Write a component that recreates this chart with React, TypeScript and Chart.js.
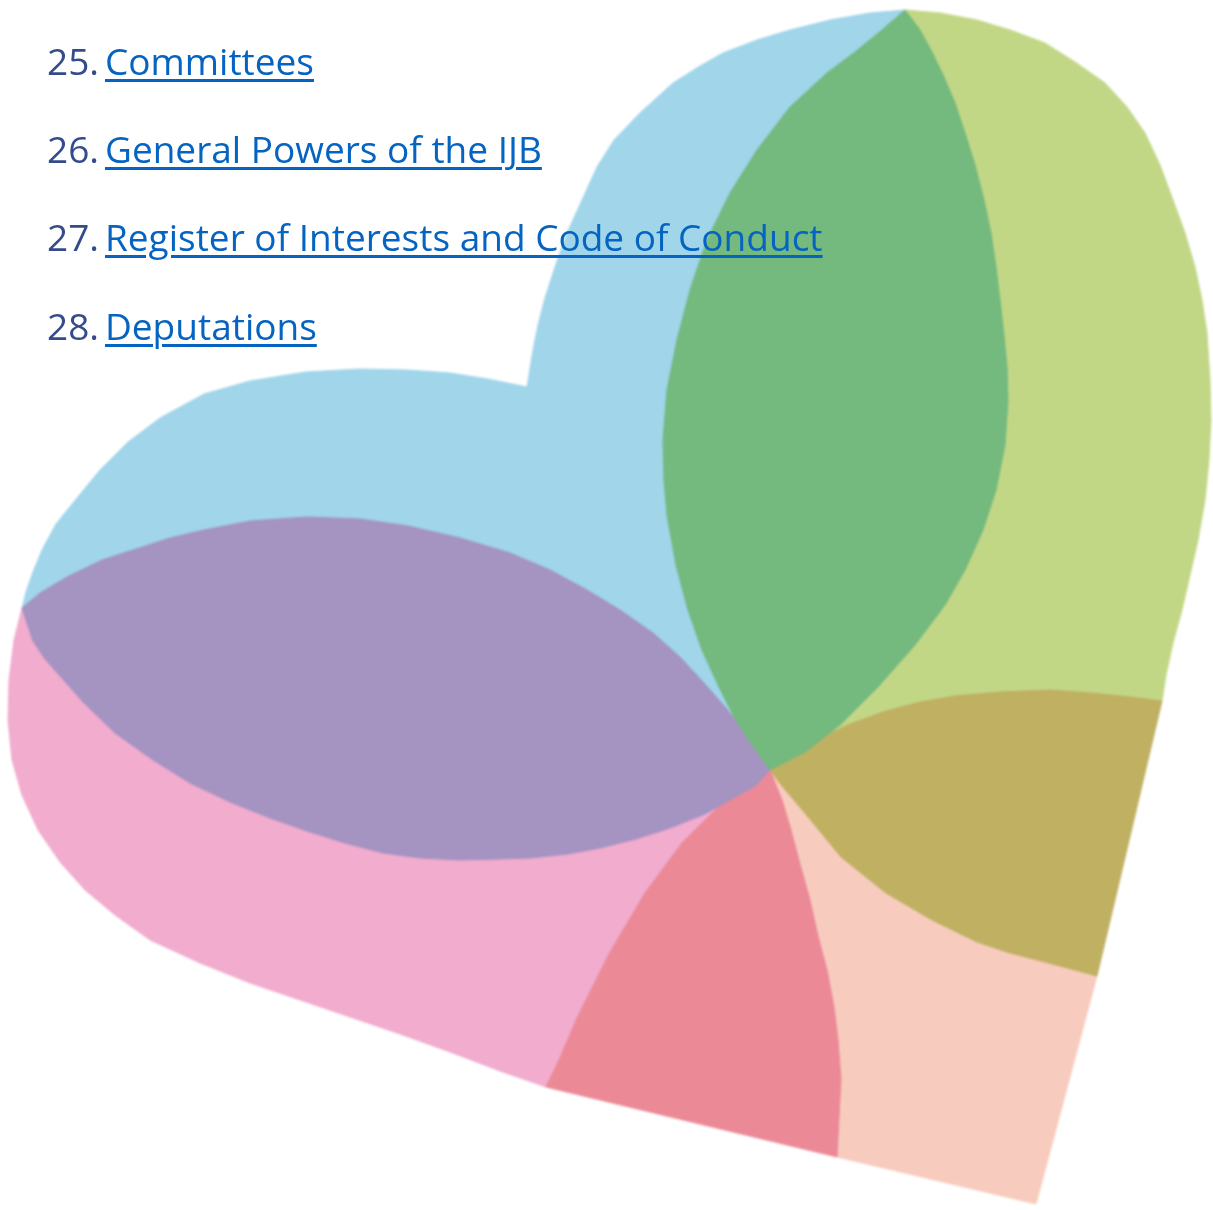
import React, { useEffect, useRef } from "react";
import { Chart, registerables } from "chart.js";

Chart.register(...registerables);

// ---- Text content ----
const itemNumbers = ["25.", "26.", "27.", "28."];
const itemTitles = [
  "Committees",
  "General Powers of the IJB",
  "Register of Interests and Code of Conduct",
  "Deputations",
];
const itemBaselines = [75, 163, 251, 340];

// ---- Shape outlines (x/y in image units) ----
const blueLobe: number[][] = [
  [22, 608], [26, 592], [33, 572], [42, 550], [56, 524], [77, 498], [100, 470], [128, 442],
  [160, 418], [204, 394], [250, 381], [306, 372], [360, 369], [408, 370], [450, 373], [488, 379],
  [527, 387], [533, 350], [538, 325], [545, 298], [555, 267], [567, 233], [582, 200], [597, 167],
  [614, 140], [640, 113], [673, 83], [700, 66], [723, 53], [757, 40], [790, 30], [830, 20],
  [870, 13], [905, 10], [770, 770], [22, 608],
];
const lightGreenLobe: number[][] = [
  [905, 10], [940, 13], [977, 20], [1010, 30], [1045, 43], [1075, 62], [1105, 83], [1127, 107],
  [1145, 133], [1160, 165], [1173, 200], [1185, 233], [1195, 267], [1202, 300], [1207, 333],
  [1210, 380], [1211, 420], [1209, 460], [1205, 500], [1198, 540], [1190, 575], [1182, 610],
  [1173, 643], [1166, 675], [1162, 701], [770, 770], [905, 10],
];
const pinkBand: number[][] = [
  [22, 608], [14, 640], [9, 680], [8, 720], [12, 760], [22, 795], [38, 830], [60, 862], [85, 890],
  [115, 915], [150, 940], [200, 963], [250, 983], [300, 1000], [350, 1017], [400, 1034],
  [450, 1052], [500, 1071], [546, 1087], [770, 770], [22, 608],
];
const peachWedge: number[][] = [
  [770, 770], [1097, 976], [1036, 1204], [837, 1157], [770, 770],
];
const olivePetal: number[][] = [
  [770, 770], [795, 752], [820, 738], [850, 724], [886, 711], [920, 702], [955, 696], [1000, 692],
  [1050, 690], [1091, 693], [1130, 697], [1162, 701], [1097, 976], [1045, 962], [1010, 953],
  [977, 942], [932, 920], [886, 893], [841, 857], [809, 818], [782, 786], [770, 770],
];
const redPetal: number[][] = [
  [770, 770], [745, 790], [718, 807], [682, 843], [645, 893], [609, 954], [577, 1018], [560, 1058],
  [546, 1087], [837, 1157], [841, 1079], [838, 1040], [834, 1007], [827, 970], [818, 936],
  [810, 900], [800, 864], [791, 830], [782, 800], [776, 785], [770, 770],
];
const purpleLeaf: number[][] = [
  [22, 608], [40, 593], [67, 577], [102, 560], [133, 550], [170, 538], [204, 530], [250, 521],
  [306, 517], [360, 519], [408, 526], [460, 538], [510, 553], [550, 570], [587, 590], [620, 610],
  [653, 633], [680, 657], [704, 683], [726, 708], [745, 733], [758, 752], [770, 770],
  [755, 786], [730, 800], [705, 814], [670, 828], [636, 839], [600, 848], [568, 854], [530, 858],
  [500, 859], [460, 860], [420, 858], [383, 853], [345, 843], [307, 831], [270, 818], [230, 802],
  [190, 783], [153, 760], [115, 733], [83, 702], [60, 676], [45, 659], [33, 641], [22, 608],
];
const greenLeaf: number[][] = [
  [905, 10], [920, 30], [932, 52], [944, 77], [955, 103], [965, 133], [975, 165], [984, 200],
  [991, 233], [996, 267], [1000, 300], [1004, 335], [1007, 367], [1008, 400], [1005, 445],
  [996, 490], [983, 530], [965, 570], [945, 605], [915, 645], [877, 688], [840, 725], [805, 752],
  [770, 770], [752, 745], [736, 721], [718, 685], [702, 650], [688, 610], [676, 565], [667, 515],
  [664, 480], [663, 440], [667, 390], [677, 340], [690, 290], [707, 240], [730, 193], [757, 150],
  [790, 107], [827, 73], [855, 52], [882, 30], [905, 10],
];

// bottom layer first
const regionNames = ["Blue", "Light green", "Pink", "Peach", "Olive", "Red", "Purple", "Green"];
const regionOutlines = [blueLobe, lightGreenLobe, pinkBand, peachWedge, olivePetal, redPetal, purpleLeaf, greenLeaf];
const regionColors = ["#A0D5EA", "#C2D786", "#F1ACCE", "#F7CCBE", "#C0B062", "#EC8997", "#A593C2", "#74B97E"];

const W = 1213;
const H = 1210;

export default function App() {
  const ref = useRef<HTMLCanvasElement | null>(null);

  useEffect(() => {
    if (!ref.current) return;
    const n = regionOutlines.length;
    const chart = new Chart(ref.current, {
      type: "scatter",
      data: {
        datasets: regionOutlines.map((outline, i) => ({
          label: regionNames[i],
          data: outline.map(([x, y]) => ({ x, y })),
          showLine: true,
          fill: "shape",
          backgroundColor: regionColors[i],
          borderColor: regionColors[i],
          borderWidth: 1,
          borderJoinStyle: "round",
          pointRadius: 0,
          pointHoverRadius: 0,
          tension: 0,
          order: n - i,
        })),
      } as any,
      options: {
        animation: false,
        responsive: false,
        maintainAspectRatio: false,
        events: [],
        layout: { padding: 0 },
        plugins: { legend: { display: false }, tooltip: { enabled: false } },
        scales: {
          x: { type: "linear", min: 0, max: W, display: false },
          y: { type: "linear", min: 0, max: H, reverse: true, display: false },
        },
      } as any,
    });
    return () => chart.destroy();
  }, []);

  const fs = 37;
  return (
    <div style={{ position: "absolute", left: 0, top: 0, width: W, height: H, overflow: "hidden", background: "#fff" }}>
      <canvas
        ref={ref}
        width={W}
        height={H}
        style={{ position: "absolute", left: 0, top: 0, width: W, height: H, filter: "blur(1.2px)" }}
      />
      {itemTitles.map((t, i) => (
        <div
          key={i}
          style={{
            position: "absolute",
            left: 0,
            top: itemBaselines[i] - 40,
            height: 52,
            lineHeight: "52px",
            fontFamily: "'Open Sans', sans-serif",
            fontSize: fs,
            whiteSpace: "nowrap",
          }}
        >
          <span style={{ position: "absolute", left: 47, color: "#344C8C" }}>{itemNumbers[i]}</span>
          <span
            style={{
              position: "absolute",
              left: 105,
              color: "#0563C1",
              textDecoration: "underline",
              textDecorationThickness: "2.5px",
              textUnderlineOffset: "4px",
            }}
          >
            {t}
          </span>
        </div>
      ))}
    </div>
  );
}
